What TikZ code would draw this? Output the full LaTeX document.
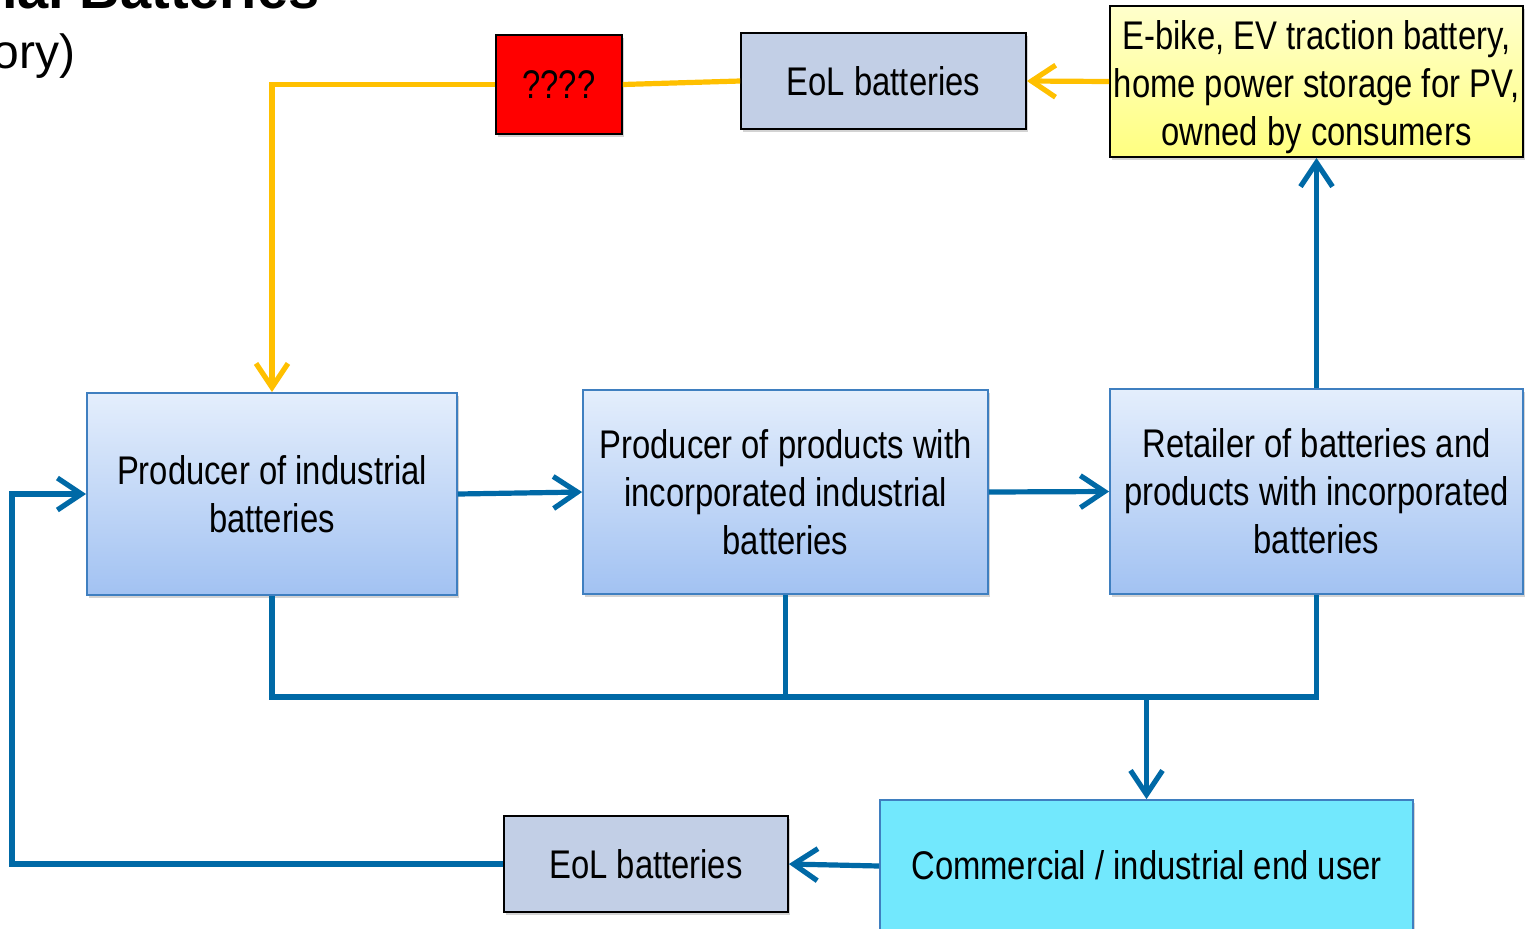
\documentclass[tikz,border=0pt]{standalone}
\usepackage{fontspec}
\setmainfont{Liberation Sans}
\newfontfamily\narrowfont[FakeStretch=0.82]{Liberation Sans}
\usetikzlibrary{arrows.meta,shadows}
\definecolor{lineblue}{HTML}{0069A6}
\definecolor{lineyellow}{HTML}{FFC000}
\definecolor{boxborder}{HTML}{3F7FC0}
\definecolor{boxtop}{HTML}{E4EEFC}
\definecolor{boxbot}{HTML}{A2C2F2}
\definecolor{eolfill}{HTML}{C2CFE6}
\definecolor{userfill}{HTML}{72E8FD}
\definecolor{yeltop}{HTML}{FFFFCC}
\definecolor{yelbot}{HTML}{FFFF80}
\tikzset{
  x=0.5pt, y=-0.5pt,
  boxtext/.style={font=\narrowfont\fontsize{20}{24}\selectfont, align=center, inner sep=0pt},
  shade/.style={drop shadow={opacity=0.35, shadow xshift=1.2pt, shadow yshift=-1.5pt}},
  bluebox/.style={boxtext, shade, draw=boxborder, line width=0.9pt, top color=boxtop, bottom color=boxbot, rectangle},
  eolbox/.style={boxtext, shade, draw=black, line width=0.9pt, fill=eolfill, rectangle},
  redbox/.style={boxtext, shade, draw=black, line width=0.9pt, fill=red, rectangle},
  yelbox/.style={boxtext, shade, draw=black, line width=0.9pt, top color=yeltop, bottom color=yelbot, rectangle},
  userbox/.style={boxtext, shade, draw=boxborder, line width=0.9pt, fill=userfill, rectangle},
  bline/.style={draw=lineblue, line width=2.6pt},
  barrow/.style={bline, -{Straight Barb[length=12pt,width=16pt,line width=2.6pt]}},
  yline/.style={draw=lineyellow, line width=2.6pt},
  yarrow/.style={yline, -{Straight Barb[length=12pt,width=16pt,line width=2.6pt]}},
}
\begin{document}
\begin{tikzpicture}
\useasboundingbox (0,0) rectangle (1532,928);
\clip (0,0) rectangle (1532,928);

% cut-off title fragments
\node[anchor=base east, inner sep=0pt, font=\bfseries\fontsize{28}{32}\selectfont] (title) at (320,8) {ial Batteries};
\node[anchor=base east, inner sep=0pt, font=\fontsize{24}{28}\selectfont] (subtitle) at (76,68) {ory)};

% boxes
\node[redbox, minimum width=63pt, minimum height=49.5pt] (red) at (559,84.5) {????};
\node[eolbox, minimum width=142.5pt, minimum height=48pt] (eol1) at (883.5,81) {EoL batteries};
\node[yelbox, minimum width=206.5pt, minimum height=75.5pt] (yel) at (1316.5,81.5) {};
\node[boxtext] (yeltext) at (1316.5,87.5) {E-bike, EV traction battery,\\home power storage for PV,\\owned by consumers};
\node[bluebox, minimum width=185pt, minimum height=101pt] (p1) at (272,494) {Producer of industrial\\batteries};
\node[bluebox, minimum width=202.5pt, minimum height=102pt] (p2) at (785.5,492) {Producer of products with\\incorporated industrial\\batteries};
\node[bluebox, minimum width=206.5pt, minimum height=102.5pt] (ret) at (1316.5,491.5) {Retailer of batteries and\\products with incorporated\\batteries};
\node[userbox, minimum width=266.5pt, minimum height=66pt] (user) at (1146.5,866) {\raisebox{1pt}{Commercial / industrial end user}};
\node[eolbox, minimum width=142pt, minimum height=48pt] (eol2) at (646,864) {EoL batteries};

% helper coordinates
\coordinate (bus) at (0,697);
\coordinate (left) at (12,0);

% yellow connectors
\draw[yarrow] (yel.west) -- (eol1.east);
\draw[yline] (eol1.west) -- (red.east);
\draw[yarrow] (red.west) -- (p1.north |- red.west) -- (p1.north);

% blue connectors
\draw[barrow] (p1.east) -- (p2.west);
\draw[barrow] (p2.east) -- (ret.west);
\draw[barrow] (ret.north) -- (yel.south);
\draw[bline] (p1.south) -- (p1.south |- bus) -- (ret.south |- bus) -- (ret.south);
\draw[bline] (p2.south) -- (p2.south |- bus);
\draw[barrow] (user.north |- bus) -- (user.north);
\draw[barrow] (user.west) -- (eol2.east);
\draw[barrow] (eol2.west) -- (left |- eol2.west) -- (left |- p1.west) -- (p1.west);
\end{tikzpicture}
\end{document}
